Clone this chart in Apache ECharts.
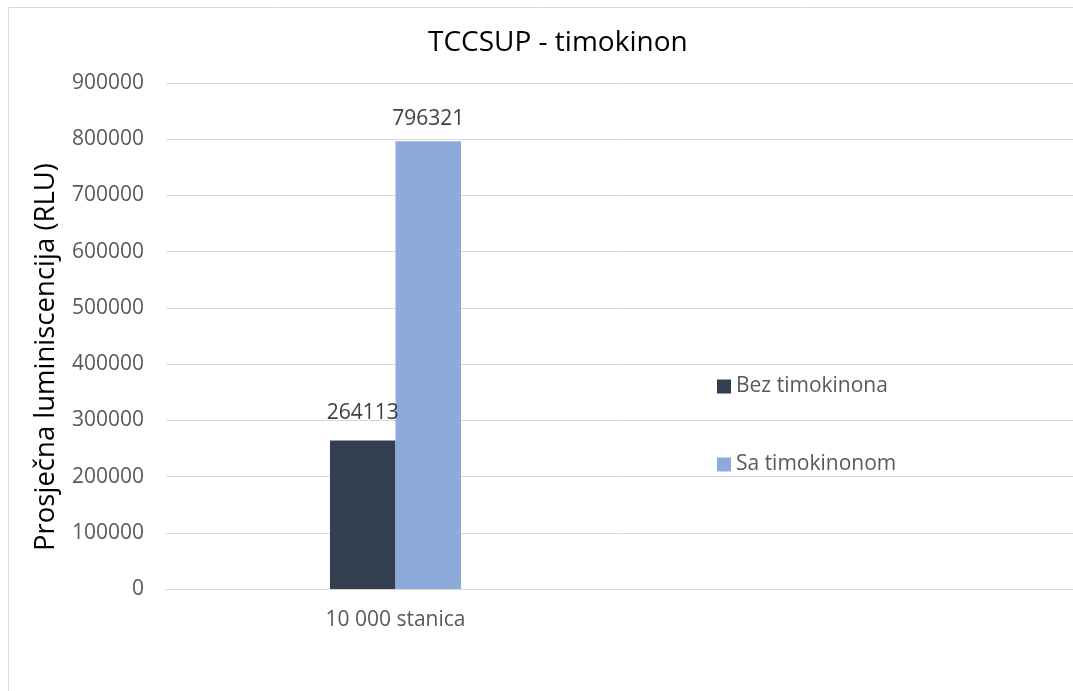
<!DOCTYPE html>
<html>
<head>
<meta charset="utf-8">
<script src="https://cdn.jsdelivr.net/npm/echarts@6/dist/echarts.min.js"></script>
<style>
  html, body { margin: 0; padding: 0; background: #fff; }
  #chart { width: 1073px; height: 691px; }
</style>
</head>
<body>
<div id="chart"></div>
<script>
// data
const categories = ['10 000 stanica']
const seriesNames = ['Bez timokinona', 'Sa timokinonom']
const bezValues = [264113]
const saValues = [796321]
const yMin = 0
const yMax = 900000
const yStep = 100000

const FONT = '"Open Sans", sans-serif'

const chart = echarts.init(document.getElementById('chart'))

const barLabel = (distance) => ({
  show: true,
  position: 'top',
  distance: distance,
  color: '#404040',
  fontSize: 21,
  fontFamily: FONT
})

// grid 0 holds the bars (one category), grid 1 only stretches the gridlines to the right edge
const option = {
  backgroundColor: '#fff',
  animation: false,
  graphic: [{
    type: 'rect',
    shape: { x: 8.5, y: 7.5, width: 1100, height: 720 },
    style: { fill: 'none', stroke: '#d9d9d9', lineWidth: 1 },
    silent: true
  }],
  title: {
    text: 'TCCSUP - timokinon',
    left: 423,
    top: 24,
    textStyle: { color: '#000', fontSize: 28, fontWeight: 'normal', fontFamily: FONT }
  },
  legend: {
    orient: 'vertical',
    left: 717,
    top: 376,
    padding: 0,
    itemWidth: 14,
    itemHeight: 14,
    itemGap: 57,
    icon: 'rect',
    textStyle: { color: '#595959', fontSize: 21, fontFamily: FONT },
    data: seriesNames
  },
  grid: [
    { left: 166, top: 83, width: 459, height: 506 },
    { left: 166, top: 83, right: 0, height: 506 }
  ],
  xAxis: [
    {
      type: 'category',
      gridIndex: 0,
      data: categories,
      axisLine: { show: false },
      axisTick: { show: false },
      axisLabel: { color: '#595959', fontSize: 21, fontFamily: FONT, margin: 21 }
    },
    {
      type: 'category',
      gridIndex: 1,
      data: categories,
      axisLine: { lineStyle: { color: '#d9d9d9', width: 1 } },
      axisTick: { show: false },
      axisLabel: { show: false }
    }
  ],
  yAxis: [
    {
      type: 'value',
      gridIndex: 0,
      min: yMin,
      max: yMax,
      interval: yStep,
      name: 'Prosječna luminiscencija (RLU)',
      nameLocation: 'middle',
      nameGap: 106,
      nameTextStyle: { color: '#000', fontSize: 27.5, fontFamily: FONT, padding: [0, 42, 0, 0] },
      axisLine: { show: false },
      axisTick: { show: false },
      axisLabel: {
        color: '#595959',
        fontSize: 21,
        fontFamily: FONT,
        margin: 22,
        formatter: (v) => String(v)
      },
      splitLine: { show: false }
    },
    {
      type: 'value',
      gridIndex: 1,
      min: yMin,
      max: yMax,
      interval: yStep,
      axisLine: { show: false },
      axisTick: { show: false },
      axisLabel: { show: false },
      splitLine: { lineStyle: { color: '#d9d9d9', width: 1 } }
    }
  ],
  series: [
    {
      name: seriesNames[0],
      type: 'bar',
      xAxisIndex: 0,
      yAxisIndex: 0,
      data: bezValues,
      barWidth: 65.5,
      barGap: '0%',
      itemStyle: { color: '#333f50' },
      label: barLabel(17)
    },
    {
      name: seriesNames[1],
      type: 'bar',
      xAxisIndex: 0,
      yAxisIndex: 0,
      data: saValues,
      barWidth: 65.5,
      barGap: '0%',
      itemStyle: { color: '#8eaadb' },
      label: barLabel(12)
    }
  ]
}

chart.setOption(option)
</script>
</body>
</html>
